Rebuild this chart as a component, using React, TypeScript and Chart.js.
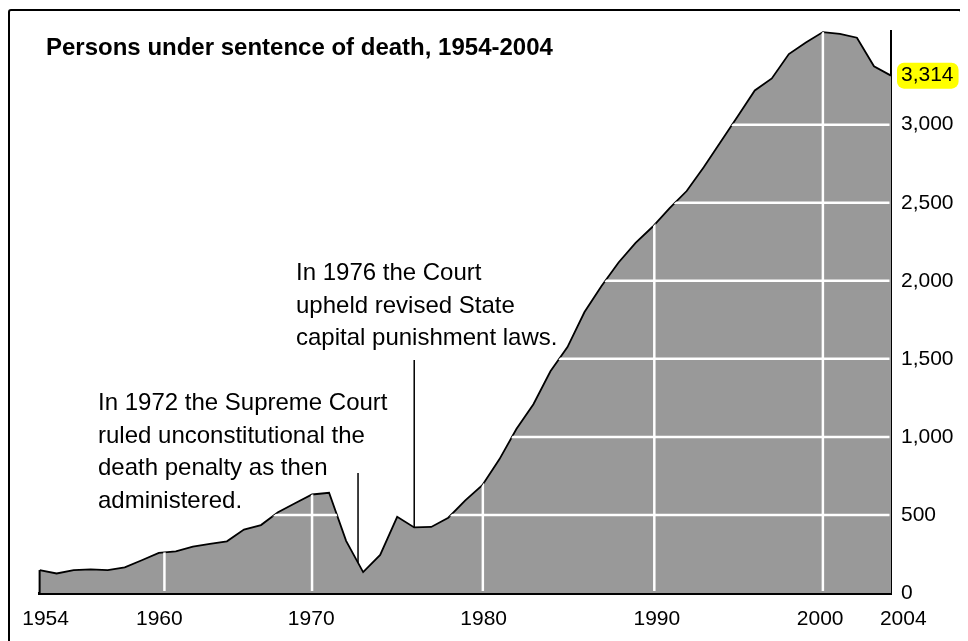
import React, { useEffect, useRef } from 'react';
import { Chart, registerables } from 'chart.js';

Chart.register(...registerables);

// ---- data ----
const years = [
  1954, 1955, 1956, 1957, 1958, 1959, 1960, 1961, 1962, 1963,
  1964, 1965, 1966, 1967, 1968, 1969, 1970, 1971, 1972, 1973,
  1974, 1975, 1976, 1977, 1978, 1979, 1980, 1981, 1982, 1983,
  1984, 1985, 1986, 1987, 1988, 1989, 1990, 1991, 1992, 1993,
  1994, 1995, 1996, 1997, 1998, 1999, 2000, 2001, 2002, 2003, 2004,
];
const persons = [
  147, 125, 146, 151, 147, 164, 210, 257, 267, 297,
  315, 331, 406, 435, 517, 575, 631, 642, 334, 134,
  244, 488, 420, 423, 482, 593, 691, 856, 1050, 1209,
  1420, 1575, 1800, 1967, 2117, 2243, 2346, 2466, 2575, 2727,
  2890, 3054, 3219, 3296, 3452, 3527, 3593, 3581, 3557, 3374, 3314,
];
const yTickValues = [0, 500, 1000, 1500, 2000, 2500, 3000];
const highlightValue = 3314;
const xTickLabels = ['1954', '1960', '1970', '1980', '1990', '2000', '2004'];
const xTickPlacement = [1954.35, 1961.03, 1969.95, 1980.08, 1990.25, 1999.84, 2004.72];
const xGridYears = [1961.33, 1970, 1980.03, 1990.1, 2000];
const titleText = 'Persons under sentence of death, 1954-2004';
const note1972 = ['In 1972 the Supreme Court', 'ruled unconstitutional the', 'death penalty as then', 'administered.'];
const note1976 = ['In 1976 the Court', 'upheld revised State', 'capital punishment laws.'];
const leader1972Year = 1972.7;
const leader1976Year = 1976;

const FONT = '"Liberation Sans", Arial, Helvetica, sans-serif';
const TICK_SIZE = 21;

function valueAtYear(yr: number): number {
  for (let i = 0; i < years.length - 1; i++) {
    if (yr >= years[i] && yr <= years[i + 1]) {
      const t = (yr - years[i]) / (years[i + 1] - years[i]);
      return persons[i] + t * (persons[i + 1] - persons[i]);
    }
  }
  return persons[persons.length - 1];
}

export default function App() {
  const ref = useRef<HTMLCanvasElement>(null);

  useEffect(() => {
    const canvas = ref.current;
    if (!canvas) return;

    const overlay = {
      id: 'overlay',
      beforeDraw(chart: any) {
        const ctx = chart.ctx;
        const ys = chart.scales.y;
        const area = chart.chartArea;
        const cy = ys.getPixelForValue(highlightValue);
        ctx.save();
        ctx.font = `${TICK_SIZE}px ${FONT}`;
        const w = ctx.measureText(highlightValue.toLocaleString('en-US')).width;
        const x0 = area.right + 6;
        ctx.fillStyle = '#ffff00';
        ctx.beginPath();
        if (ctx.roundRect) ctx.roundRect(x0, cy - 13, w + 9, 26, 7);
        else ctx.rect(x0, cy - 13, w + 9, 26);
        ctx.fill();
        ctx.restore();
      },
      afterDatasetsDraw(chart: any) {
        const ctx = chart.ctx;
        const xs = chart.scales.x;
        const ys = chart.scales.y;
        const area = chart.chartArea;
        const pts = chart.getDatasetMeta(0).data;
        const base = ys.getPixelForValue(0);
        ctx.save();
        // white grid lines, visible only inside the filled area
        ctx.beginPath();
        ctx.moveTo(pts[0].x, base);
        for (const p of pts) ctx.lineTo(p.x, p.y);
        ctx.lineTo(pts[pts.length - 1].x, base);
        ctx.closePath();
        ctx.clip();
        ctx.strokeStyle = '#ffffff';
        ctx.lineWidth = 2.5;
        ctx.beginPath();
        for (const v of yTickValues) {
          if (v === 0) continue;
          const y = ys.getPixelForValue(v);
          ctx.moveTo(area.left, y);
          ctx.lineTo(area.right - 1.5, y);
        }
        for (const yr of xGridYears) {
          const x = xs.getPixelForValue(yr);
          ctx.moveTo(x, area.top);
          ctx.lineTo(x, base - 2);
        }
        ctx.stroke();
        ctx.restore();

        ctx.save();
        // left edge of the area
        ctx.strokeStyle = '#000';
        ctx.lineWidth = 2;
        ctx.beginPath();
        ctx.moveTo(pts[0].x, pts[0].y);
        ctx.lineTo(pts[0].x, base);
        ctx.stroke();
        // leader lines
        ctx.lineWidth = 1.5;
        ctx.beginPath();
        const x72 = xs.getPixelForValue(leader1972Year);
        ctx.moveTo(x72, 465);
        ctx.lineTo(x72, ys.getPixelForValue(valueAtYear(leader1972Year)));
        const x76 = xs.getPixelForValue(leader1976Year);
        ctx.moveTo(x76, 352);
        ctx.lineTo(x76, ys.getPixelForValue(valueAtYear(leader1976Year)));
        ctx.stroke();
        ctx.restore();
      },
    };

    const chart = new Chart(canvas, {
      type: 'line',
      data: {
        datasets: [
          {
            data: years.map((yr, i) => ({ x: yr, y: persons[i] })),
            borderColor: '#000000',
            borderWidth: 1.8,
            backgroundColor: '#999999',
            fill: 'origin',
            pointRadius: 0,
            tension: 0,
          },
        ],
      },
      options: {
        animation: false,
        responsive: false,
        maintainAspectRatio: false,
        layout: { padding: { left: 30, top: 23, right: 0, bottom: 0 } },
        plugins: { legend: { display: false }, tooltip: { enabled: false }, title: { display: false } },
        scales: {
          x: {
            type: 'linear',
            min: 1954,
            max: 2004,
            grid: { display: false, drawTicks: false },
            border: { display: true, color: '#000', width: 3 },
            afterBuildTicks: (s: any) => {
              s.ticks = xTickPlacement.map((v) => ({ value: v }));
            },
            afterFit: (s: any) => {
              s.height = 48;
            },
            ticks: {
              autoSkip: false,
              maxRotation: 0,
              minRotation: 0,
              padding: 14,
              color: '#000',
              font: { family: FONT, size: TICK_SIZE },
              callback: (_v: any, i: number) => xTickLabels[i],
            },
          },
          y: {
            position: 'right',
            min: 0,
            max: 3600,
            grid: { display: false, drawTicks: false },
            border: { display: true, color: '#000', width: 2 },
            afterBuildTicks: (s: any) => {
              s.ticks = [...yTickValues, highlightValue].map((v) => ({ value: v }));
            },
            afterFit: (s: any) => {
              s.width = 69;
            },
            ticks: {
              padding: 10,
              color: '#000',
              font: { family: FONT, size: TICK_SIZE },
              callback: (v: any) => Number(v).toLocaleString('en-US'),
            },
          },
        },
      },
      plugins: [overlay],
    } as any);

    return () => chart.destroy();
  }, []);

  const noteStyle: React.CSSProperties = {
    position: 'absolute',
    fontFamily: FONT,
    fontSize: 24,
    lineHeight: '32.7px',
    color: '#000',
    whiteSpace: 'nowrap',
  };

  return (
    <div style={{ position: 'relative', width: 960, height: 633, overflow: 'hidden', fontFamily: FONT }}>
      <div
        style={{
          position: 'absolute',
          left: 0,
          top: 1,
          width: 950,
          height: 700,
          border: '2px solid #000',
          borderRadius: 3,
        }}
      />
      <canvas
        ref={ref}
        width={952}
        height={633}
        style={{ position: 'absolute', left: 0, top: 0, width: 952, height: 633 }}
      />
      <div
        style={{
          position: 'absolute',
          left: 38,
          top: 27,
          fontFamily: FONT,
          fontWeight: 'bold',
          fontSize: 24,
          lineHeight: '24px',
          whiteSpace: 'nowrap',
          color: '#000',
        }}
      >
        {titleText}
      </div>
      <div style={{ ...noteStyle, left: 288, top: 248 }}>
        {note1976.map((l) => (
          <div key={l}>{l}</div>
        ))}
      </div>
      <div style={{ ...noteStyle, left: 90, top: 378 }}>
        {note1972.map((l) => (
          <div key={l}>{l}</div>
        ))}
      </div>
    </div>
  );
}
